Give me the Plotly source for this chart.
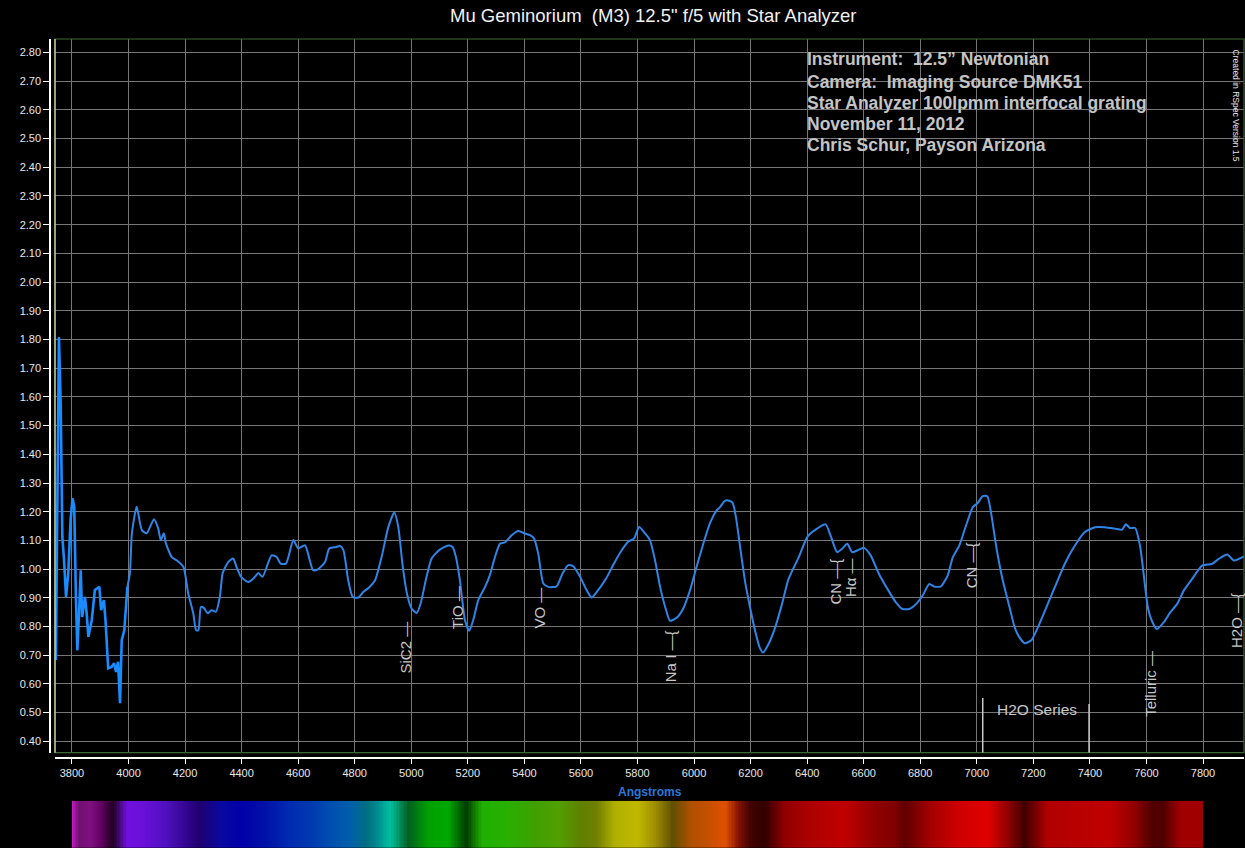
import numpy as np
import plotly.graph_objects as go

# spectrum (Angstroms, relative intensity)
wavelength = [3743, 3748, 3754, 3760, 3764, 3766, 3772, 3779, 3787, 3795, 3802, 3808, 3814, 3819,
              3825, 3831, 3836, 3846, 3852, 3858, 3870, 3881, 3897, 3903, 3913, 3919, 3928, 3940,
              3949, 3956, 3963, 3970, 3976, 3985, 3996, 4005, 4012, 4029, 4047, 4064, 4090, 4105,
              4114, 4125, 4132, 4153, 4170, 4194, 4211, 4229, 4239, 4247, 4256, 4267, 4280, 4294,
              4309, 4323, 4333, 4353, 4370, 4382, 4398, 4424, 4447, 4459, 4474, 4506, 4524, 4538,
              4557, 4583, 4600, 4624, 4653, 4671, 4695, 4710, 4736, 4748, 4760, 4777, 4793, 4813,
              4830, 4851, 4872, 4895, 4919, 4940, 4954, 4970, 4986, 5001, 5019, 5033, 5054, 5072,
              5101, 5131, 5146, 5158, 5172, 5190, 5205, 5219, 5237, 5261, 5278, 5296, 5314, 5331,
              5355, 5378, 5402, 5420, 5434, 5449, 5467, 5485, 5514, 5535, 5555, 5573, 5597, 5620,
              5638, 5661, 5689, 5714, 5738, 5767, 5788, 5806, 5827, 5844, 5862, 5880, 5898, 5915,
              5939, 5962, 5986, 6009, 6033, 6056, 6080, 6092, 6109, 6125, 6137, 6148, 6163, 6180,
              6198, 6216, 6232, 6244, 6263, 6287, 6311, 6334, 6370, 6402, 6435, 6465, 6483, 6506,
              6524, 6542, 6559, 6577, 6601, 6625, 6654, 6684, 6714, 6737, 6761, 6785, 6808, 6832,
              6850, 6873, 6897, 6915, 6938, 6962, 6986, 7003, 7021, 7037, 7051, 7069, 7092, 7116,
              7134, 7151, 7169, 7193, 7216, 7246, 7276, 7311, 7347, 7382, 7418, 7453, 7489, 7513,
              7527, 7542, 7560, 7578, 7590, 7605, 7619, 7637, 7661, 7684, 7708, 7732, 7761, 7797,
              7832, 7856, 7886, 7909, 7945]
intensity = [0.683, 1.334, 1.809, 1.578, 1.339, 1.112, 1.031, 0.903, 0.986, 1.17, 1.247, 1.217, 0.903, 0.717,
             0.846, 0.996, 0.833, 0.903, 0.846, 0.764, 0.822, 0.927, 0.938, 0.857, 0.892, 0.816, 0.654, 0.659,
             0.672, 0.642, 0.677, 0.533, 0.752, 0.787, 0.938, 0.986, 1.125, 1.217, 1.136, 1.125, 1.174, 1.142,
             1.101, 1.125, 1.09, 1.042, 1.031, 1.008, 0.916, 0.846, 0.787, 0.787, 0.868, 0.864, 0.846, 0.857,
             0.851, 0.903, 0.986, 1.025, 1.037, 1.008, 0.973, 0.955, 0.973, 0.986, 0.973, 1.048, 1.042, 1.019,
             1.019, 1.101, 1.072, 1.083, 0.996, 1.0, 1.025, 1.072, 1.077, 1.081, 1.066, 0.961, 0.903, 0.901,
             0.92, 0.936, 0.961, 1.042, 1.147, 1.197, 1.147, 1.008, 0.909, 0.863, 0.847, 0.88, 0.973, 1.037,
             1.068, 1.082, 1.077, 1.042, 0.961, 0.822, 0.785, 0.822, 0.892, 0.938, 0.979, 1.042, 1.089, 1.093,
             1.118, 1.133, 1.124, 1.118, 1.107, 1.054, 0.95, 0.938, 0.94, 0.985, 1.014, 1.01, 0.973, 0.927,
             0.901, 0.927, 0.967, 1.014, 1.056, 1.095, 1.107, 1.147, 1.124, 1.101, 1.031, 0.938, 0.868, 0.82,
             0.831, 0.863, 0.927, 1.008, 1.089, 1.159, 1.205, 1.216, 1.238, 1.238, 1.23, 1.182, 1.077, 0.96,
             0.867, 0.785, 0.727, 0.709, 0.738, 0.797, 0.878, 0.965, 1.041, 1.114, 1.141, 1.156, 1.117, 1.059,
             1.071, 1.088, 1.059, 1.065, 1.074, 1.047, 0.983, 0.931, 0.884, 0.861, 0.861, 0.878, 0.907, 0.948,
             0.939, 0.94, 0.977, 1.041, 1.082, 1.152, 1.216, 1.23, 1.254, 1.254, 1.193, 1.077, 0.96, 0.867,
             0.797, 0.762, 0.742, 0.752, 0.797, 0.867, 0.937, 1.018, 1.082, 1.129, 1.146, 1.146, 1.141, 1.137,
             1.156, 1.143, 1.143, 1.077, 0.983, 0.867, 0.82, 0.791, 0.814, 0.849, 0.878, 0.925, 0.965, 1.012,
             1.018, 1.036, 1.051, 1.03, 1.044]

# line identifications
line_labels = ["SiC2 —", "TiO —", "VO —", "Na I —{", "CN —{", "Hα —", "CN —{", "Telluric —", "H2O —{"]
line_wl = [4978, 5165, 5455, 5917, 6500, 6554, 6982, 7616, 7921]
line_label_y = [0.727, 0.868, 0.866, 0.695, 0.958, 0.971, 1.012, 0.60, 0.82]

h2o_series_wl = [7021, 7397]
h2o_series_top = [0.551, 0.530]

info_lines = ["Instrument:  12.5” Newtonian",
              "Camera:  Imaging Source DMK51",
              "Star Analyzer 100lpmm interfocal grating",
              "November 11, 2012",
              "Chris Schur, Payson Arizona"]
info_y = [2.777, 2.698, 2.624, 2.550, 2.477]

# colour strip under the axis (band centres and their colours)
strip_wl = [3800, 3806, 3825, 3865, 3905, 3945, 3995, 4050, 4130, 4250, 4330, 4400, 4480, 4560,
            4640, 4720, 4790, 4845, 4880, 4925, 4990, 5060, 5130, 5195, 5250, 5340, 5440, 5520,
            5600, 5655, 5720, 5800, 5860, 5925, 5990, 6040, 6110, 6160, 6200, 6250, 6320, 6420,
            6530, 6640, 6710, 6745, 6830, 6940, 7040, 7110, 7170, 7250, 7350, 7470, 7560, 7620,
            7660, 7720, 7800]
strip_colors = ["#d020d0", "#b018b0", "#701070", "#801080", "#600060", "#200020", "#7010e0",
                "#6a10d8", "#5010c0", "#200070", "#0808a0", "#0000a8", "#0010a8", "#0028b0",
                "#0038b0", "#0050b0", "#0060a8", "#007080", "#008c90", "#00c0a0", "#006020",
                "#00a000", "#00a800", "#003c00", "#20b000", "#28b000", "#40a000", "#50a000",
                "#608000", "#708000", "#b0b000", "#c0b800", "#a09000", "#605000", "#b05000",
                "#c05000", "#e05000", "#801000", "#400400", "#300000", "#900000", "#b00000",
                "#c00000", "#900000", "#800000", "#600000", "#a00000", "#d00000", "#e00000",
                "#900000", "#400000", "#b00000", "#b80000", "#c00000", "#900000", "#500000",
                "#500000", "#a00000", "#a00000"]

x_ticks = list(range(3800, 8000, 200))
y_ticks = [round(0.4 + 0.1 * i, 2) for i in range(25)]

W, H = 1245, 848
L, R, T, B = 50, 1, 39, 0
pw, ph = W - L - R, H - T - B
FONT = "Liberation Sans, Arial, sans-serif"

wl = np.array(wavelength)
val = np.array(intensity)
blue_end = wl <= 3996

fig = go.Figure()
# bright first part, then the rest of the spectrum (sharing the joint point)
fig.add_trace(go.Scatter(x=wl[blue_end], y=val[blue_end], mode="lines",
                         line=dict(color="#1a8cff", width=2.6), hoverinfo="skip"))
k = int(blue_end.sum()) - 1
fig.add_trace(go.Scatter(x=wl[k:], y=val[k:], mode="lines",
                         line=dict(color="#2f84e6", width=2, shape="spline", smoothing=0.6),
                         hoverinfo="skip"))

# spectrum strip as a one-row heatmap
edges = np.arange(3800, 7801, 5)
centers = (edges[:-1] + edges[1:]) / 2
cscale = [[(w - 3800) / 4000, c] for w, c in zip(strip_wl, strip_colors)]
fig.add_trace(go.Heatmap(x=edges, y=[0, 1], z=[centers], colorscale=cscale, zmin=3800, zmax=7800,
                         showscale=False, hoverinfo="skip", xaxis="x2", yaxis="y2"))

grid = "#767676"
fig.update_layout(
    width=W, height=H, margin=dict(l=L, r=R, t=T, b=B),
    paper_bgcolor="black", plot_bgcolor="black", showlegend=False,
    font=dict(family=FONT, color="#e8e8e8", size=11),
    xaxis=dict(domain=[5 / pw, 1], range=[3740, 7945], anchor="free", position=(H - 758.3) / ph,
               tickvals=x_ticks, ticks="outside", ticklen=5, tickcolor="white",
               showline=True, linecolor="white", linewidth=1.5,
               showgrid=True, gridcolor=grid, gridwidth=1, zeroline=False,
               tickfont=dict(size=11, color="#e8e8e8")),
    yaxis=dict(domain=[(H - 752.7) / ph, 1], range=[0.3603, 2.847], anchor="free", position=0,
               tickvals=y_ticks, tickformat=".2f", ticks="outside", ticklen=6, tickcolor="white",
               showline=True, linecolor="white", linewidth=1.5,
               showgrid=True, gridcolor=grid, gridwidth=1, zeroline=False,
               tickfont=dict(size=11, color="#e8e8e8")),
    xaxis2=dict(domain=[5 / pw, 1], range=[3740, 7945], anchor="y2", visible=False),
    yaxis2=dict(domain=[0, 47.3 / ph], range=[0, 1], anchor="x2", visible=False),
)

shapes = [
    dict(type="rect", xref="x domain", yref="y domain", x0=0, x1=1, y0=0, y1=1,
         line=dict(color="#3c6a34", width=1.2), layer="above"),
    dict(type="line", xref="x domain", yref="y domain", x0=0, x1=0, y0=0, y1=1,
         line=dict(color="#e6e6b8", width=1.2), layer="above"),
]
for w, top in zip(h2o_series_wl, h2o_series_top):
    shapes.append(dict(type="line", xref="x", yref="y", x0=w, x1=w, y0=0.3603, y1=top,
                       line=dict(color="#c8c8c8", width=1.5)))
fig.update_layout(shapes=shapes)

ann = []
ann.append(dict(text='Mu Geminorium  (M3) 12.5" f/5 with Star Analyzer', xref="paper", yref="paper",
                x=(653 - L) / pw, y=(H - 15.5) / ph, xanchor="center", yanchor="middle",
                showarrow=False, font=dict(size=18.5, color="#f2f2f2", family=FONT)))
for txt, yv in zip(info_lines, info_y):
    ann.append(dict(text="<b>%s</b>" % txt, xref="paper", yref="y", x=(805 - L) / pw, y=yv,
                    xanchor="left", yanchor="middle", showarrow=False,
                    font=dict(size=17.5, color="#c4c4c4", family=FONT)))
ann.append(dict(text="Created in RSpec Version 1.5", xref="paper", yref="y", x=(1236 - L) / pw, y=2.615,
                xanchor="center", yanchor="middle", textangle=90, showarrow=False,
                font=dict(size=8.5, color="#e8e8e8", family=FONT)))
for txt, w, yv in zip(line_labels, line_wl, line_label_y):
    ann.append(dict(text=txt, x=w, y=yv, xref="x", yref="y", textangle=-90, showarrow=False,
                    xanchor="center", yanchor="middle",
                    font=dict(size=15, color="#c8c8c8", family=FONT)))
ann.append(dict(text="H2O Series", x=7214, y=0.512, xref="x", yref="y", showarrow=False,
                font=dict(size=15.5, color="#c8c8c8", family=FONT)))
ann.append(dict(text="<b>Angstroms</b>", xref="x domain", yref="paper", x=0.5, y=(H - 791.7) / ph,
                xanchor="center", yanchor="middle",
                showarrow=False, font=dict(size=12, color="#2a78d8", family=FONT)))
fig.update_layout(annotations=ann)

fig.write_html("out.html", config={"displayModeBar": False},
               post_script="document.body.style.margin='0';")
